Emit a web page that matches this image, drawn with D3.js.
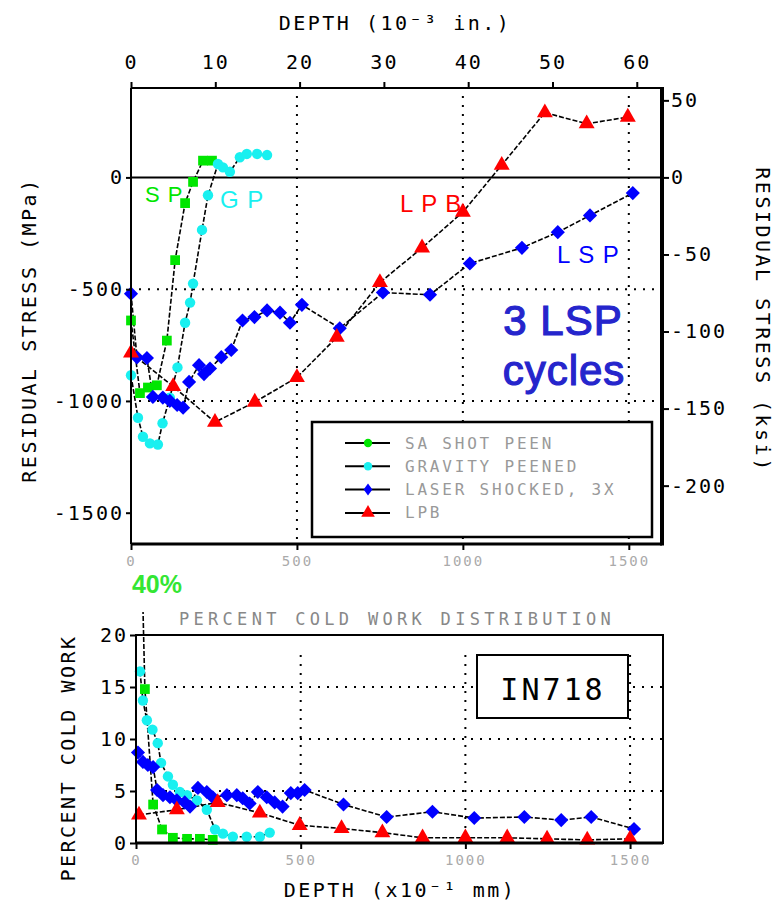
<!DOCTYPE html>
<html>
<head>
<meta charset="utf-8">
<script src="https://cdn.jsdelivr.net/npm/d3@7"></script>
<style>
  body { margin: 0; background: #fff; }
  svg { display: block; }
  .mono { font-family: "DejaVu Sans Mono", monospace; }
  .axis text { font-family: "DejaVu Sans Mono", monospace; font-size: 20px; fill: #000; letter-spacing: 2px; }
  .axis.gray text { font-size: 14px; fill: #aaa; letter-spacing: 2px; }
  .grid { stroke: #000; stroke-width: 2; stroke-dasharray: 2,7; fill: none; }
</style>
</head>
<body>
<svg id="chart" width="782" height="902"></svg>
<script>
// top panel: residual stress vs depth (um, MPa)
var spDepth = [0, 27, 51, 78, 108, 133, 163, 187, 217, 244];
var spStress = [-640, -965, -940, -930, -730, -370, -115, -20, 75, 75];

var gpDepth = [0, 21, 36, 57, 81, 95, 117, 140, 163, 178, 187, 214, 232, 262, 277, 298, 328, 349, 380, 410];
var gpStress = [-885, -1075, -1160, -1190, -1195, -1100, -985, -850, -650, -560, -475, -235, -80, 60, 45, 25, 90, 105, 105, 100];

var lspDepth = [0, 18, 48, 66, 96, 117, 139, 157, 175, 205, 220, 238, 272, 302, 336, 372, 410, 449, 479, 515, 629, 759, 901, 1021, 1178, 1286, 1383, 1512];
var lspStress = [-520, -805, -808, -982, -985, -1000, -1018, -1030, -915, -840, -880, -855, -804, -772, -640, -625, -595, -605, -650, -570, -675, -515, -525, -385, -315, -245, -170, -70];

var lpbDepth = [0, 127, 253, 373, 500, 620, 750, 877, 1000, 1117, 1247, 1373, 1497];
var lpbStress = [-785, -935, -1095, -1005, -895, -715, -470, -315, -155, 55, 290, 240, 270];

// bottom panel: percent cold work vs depth
var spCwDepth = [8, 27, 52, 79, 112, 155, 194, 233];
var spCw = [40, 14.8, 3.7, 1.3, 0.5, 0.4, 0.4, 0.3];

var gpCwDepth = [12, 21, 33, 50, 66, 76, 97, 112, 133, 155, 185, 215, 240, 264, 294, 336, 376, 406];
var gpCw = [16.5, 13.7, 11.8, 10.9, 9.6, 7.7, 6.4, 5.6, 4.9, 4.6, 4.1, 3.2, 1.3, 0.9, 0.6, 0.6, 0.6, 1.0];

var lspCwDepth = [6, 21, 36, 52, 64, 82, 103, 124, 148, 164, 188, 215, 233, 276, 306, 324, 345, 370, 397, 421, 445, 470, 491, 512, 630, 761, 900, 1027, 1179, 1291, 1382, 1512];
var lspCw = [8.7, 7.8, 7.5, 7.3, 5.1, 4.6, 4.4, 4.1, 3.9, 3.5, 5.3, 4.9, 4.4, 4.6, 4.6, 4.3, 3.8, 4.9, 4.4, 3.9, 3.5, 4.8, 4.8, 5.1, 3.7, 2.5, 3.0, 2.4, 2.5, 2.2, 2.5, 1.35];

var lpbCwDepth = [9, 124, 248, 376, 497, 624, 748, 870, 1000, 1127, 1248, 1370, 1500];
var lpbCw = [2.7, 3.2, 3.9, 2.9, 1.7, 1.4, 1.0, 0.5, 0.5, 0.5, 0.4, 0.3, 0.4];

var inchTicks = [0, 10, 20, 30, 40, 50, 60];
var mpaTicks = [0, -500, -1000, -1500];
var ksiTicks = [50, 0, -50, -100, -150, -200];
var depthTicks = [0, 500, 1000, 1500];
var cwTicks = [0, 5, 10, 15, 20];
var legendLabels = ["SA SHOT PEEN", "GRAVITY PEENED", "LASER SHOCKED, 3X", "LPB"];

var MPA_PER_KSI = 6.89476, UM_PER_MIL = 25.4;

var series = [
  { name: "sp", color: "#00e600", shape: "square", size: 95, d: spDepth, v: spStress, cd: spCwDepth, cv: spCw },
  { name: "gp", color: "#19f0f0", shape: "circle", size: 85, d: gpDepth, v: gpStress, cd: gpCwDepth, cv: gpCw },
  { name: "lsp", color: "#0000ff", shape: "diamond", size: 100, d: lspDepth, v: lspStress, cd: lspCwDepth, cv: lspCw },
  { name: "lpb", color: "#ff0000", shape: "triangle", size: 110, d: lpbDepth, v: lpbStress, cd: lpbCwDepth, cv: lpbCw }
];

var svg = d3.select("#chart");

function symbolPath(shape, size) {
  if (shape === "square" || shape === "diamond") return d3.symbol().type(d3.symbolSquare).size(size)();
  if (shape === "triangle") return d3.symbol().type(d3.symbolTriangle).size(size)();
  return d3.symbol().type(d3.symbolCircle).size(size)();
}

function drawMarkers(g, pts, s, x, y) {
  g.selectAll(".m-" + s.name)
    .data(pts)
    .enter().append("path")
    .attr("class", "m-" + s.name)
    .attr("d", symbolPath(s.shape, s.size))
    .attr("fill", s.color)
    .attr("transform", function (p) {
      return "translate(" + x(p[0]) + "," + y(p[1]) + ")" + (s.shape === "diamond" ? " rotate(45)" : "");
    });
}

// ---------- top panel ----------
var pTop = { left: 131, right: 662, top: 88, bottom: 544 };
var x1 = d3.scaleLinear().domain([0, 1600]).range([pTop.left, pTop.right]);
var y1 = d3.scaleLinear().domain([-1640, 400]).range([pTop.bottom, pTop.top]);
var xIn = d3.scaleLinear().domain([0, 1600 / UM_PER_MIL]).range([pTop.left, pTop.right]);
var yKsi = d3.scaleLinear().domain([-1640 / MPA_PER_KSI, 400 / MPA_PER_KSI]).range([pTop.bottom, pTop.top]);

svg.append("clipPath").attr("id", "clipTop").append("rect")
  .attr("x", pTop.left - 8).attr("y", pTop.top)
  .attr("width", pTop.right - pTop.left + 8).attr("height", pTop.bottom - pTop.top);

var gTop = svg.append("g");

// grid
depthTicks.slice(1).forEach(function (t) {
  gTop.append("line").attr("class", "grid")
    .attr("x1", x1(t)).attr("x2", x1(t)).attr("y1", pTop.top + 8).attr("y2", pTop.bottom);
});
[-500, -1000].forEach(function (t) {
  gTop.append("line").attr("class", "grid")
    .attr("x1", pTop.left + 8).attr("x2", pTop.right).attr("y1", y1(t)).attr("y2", y1(t));
});
// zero line
gTop.append("line").attr("x1", pTop.left).attr("x2", pTop.right)
  .attr("y1", y1(0)).attr("y2", y1(0)).attr("stroke", "#000").attr("stroke-width", 2);

var line1 = d3.line().x(function (p) { return x1(p[0]); }).y(function (p) { return y1(p[1]); });
var dataTop = gTop.append("g").attr("clip-path", "url(#clipTop)");
series.forEach(function (s) {
  var pts = s.d.map(function (d, i) { return [d, s.v[i]]; });
  dataTop.append("path").datum(pts).attr("d", line1)
    .attr("fill", "none").attr("stroke", "#000").attr("stroke-width", 1.6)
    .attr("stroke-dasharray", "5,2");
});

// legend (under the markers, over the grid)
var lg = gTop.append("g");
lg.append("rect").attr("x", 312).attr("y", 422).attr("width", 340).attr("height", 115)
  .attr("fill", "#fff").attr("stroke", "#000").attr("stroke-width", 2.5);
series.forEach(function (s, i) {
  var yy = 443 + i * 23.3;
  lg.append("line").attr("x1", 345).attr("x2", 390).attr("y1", yy).attr("y2", yy)
    .attr("stroke", "#000").attr("stroke-width", 2);
  var sh = s.shape === "square" ? "circle" : s.shape;
  lg.append("path").attr("d", symbolPath(sh, s.shape === "triangle" ? 80 : (sh === "diamond" ? 60 : 55)))
    .attr("fill", s.color)
    .attr("transform", "translate(368," + yy + ")" + (sh === "diamond" ? " scale(0.8,1.1) rotate(45)" : ""));
  lg.append("text").attr("class", "mono").attr("x", 405).attr("y", yy + 5.5)
    .attr("font-size", 16).attr("letter-spacing", 2.8).attr("fill", "#999")
    .text(legendLabels[i]);
});

series.forEach(function (s) {
  var pts = s.d.map(function (d, i) { return [d, s.v[i]]; });
  drawMarkers(dataTop, pts, s, x1, y1);
});

// axes
svg.append("g").attr("class", "axis")
  .attr("transform", "translate(0," + pTop.top + ")")
  .call(d3.axisTop(xIn).tickValues(inchTicks).tickSize(6).tickPadding(13).tickFormat(function (d) { return d; }))
  .call(function (g) { g.select(".domain").remove(); g.selectAll("line").attr("stroke-width", 2); });

svg.append("g").attr("class", "axis")
  .attr("transform", "translate(" + pTop.left + ",0)")
  .call(d3.axisLeft(y1).tickValues(mpaTicks).tickSize(5).tickPadding(2).tickFormat(function (d) { return d; }))
  .call(function (g) { g.select(".domain").remove(); g.selectAll("line").attr("stroke-width", 2); });

svg.append("g").attr("class", "axis")
  .attr("transform", "translate(" + pTop.right + ",0)")
  .call(d3.axisRight(yKsi).tickValues(ksiTicks).tickSize(7).tickPadding(2).tickFormat(function (d) { return d; }))
  .call(function (g) { g.select(".domain").remove(); g.selectAll("line").attr("stroke-width", 2); });

svg.append("g").attr("class", "axis gray")
  .attr("transform", "translate(0," + pTop.bottom + ")")
  .call(d3.axisBottom(x1).tickValues(depthTicks).tickSize(6).tickPadding(6).tickFormat(function (d) { return d; }))
  .call(function (g) { g.select(".domain").remove(); g.selectAll("line").attr("stroke", "#000").attr("stroke-width", 2); });

// frame
gTop.append("line").attr("x1", pTop.left).attr("x2", pTop.right + 2).attr("y1", pTop.top).attr("y2", pTop.top).attr("stroke", "#000").attr("stroke-width", 2);
gTop.append("line").attr("x1", pTop.left).attr("x2", pTop.left).attr("y1", pTop.top).attr("y2", pTop.bottom).attr("stroke", "#000").attr("stroke-width", 2);
gTop.append("line").attr("x1", pTop.left).attr("x2", pTop.right).attr("y1", pTop.bottom).attr("y2", pTop.bottom).attr("stroke", "#000").attr("stroke-width", 3);
gTop.append("line").attr("x1", pTop.right).attr("x2", pTop.right).attr("y1", pTop.top - 1).attr("y2", pTop.bottom + 1.5).attr("stroke", "#000").attr("stroke-width", 4);

// axis titles
svg.append("text").attr("class", "mono").attr("x", 395).attr("y", 30)
  .attr("text-anchor", "middle").attr("font-size", 20).attr("letter-spacing", 2.5)
  .text("DEPTH (10⁻³ in.)");
svg.append("text").attr("class", "mono").attr("transform", "translate(36,330) rotate(-90)")
  .attr("text-anchor", "middle").attr("font-size", 20).attr("letter-spacing", 2.5)
  .text("RESIDUAL STRESS (MPa)");
svg.append("text").attr("class", "mono").attr("transform", "translate(756,320) rotate(90)")
  .attr("text-anchor", "middle").attr("font-size", 20).attr("letter-spacing", 2.5)
  .text("RESIDUAL STRESS (ksi)");

// series labels
var labelFont = "Liberation Sans, Arial, sans-serif";
[["S P", 145, 202, "#00e600", 22], ["G P", 220, 208, "#19f0f0", 24],
 ["L P B", 400, 212, "#ff0000", 24], ["L S P", 557, 263, "#0000ff", 24]].forEach(function (l) {
  svg.append("text").attr("x", l[1]).attr("y", l[2]).attr("fill", l[3])
    .attr("font-family", labelFont).attr("font-size", l[4]).attr("letter-spacing", 1)
    .text(l[0]);
});
svg.append("text").attr("x", 563).attr("y", 335).attr("text-anchor", "middle")
  .attr("fill", "#2525cc").attr("font-family", labelFont).attr("font-size", 42).attr("letter-spacing", 1)
  .attr("stroke", "#2525cc").attr("stroke-width", 1.2).text("3 LSP");
svg.append("text").attr("x", 564).attr("y", 385).attr("text-anchor", "middle")
  .attr("fill", "#2525cc").attr("font-family", labelFont).attr("font-size", 42).attr("letter-spacing", 1)
  .attr("stroke", "#2525cc").attr("stroke-width", 1.2).text("cycles");

// ---------- bottom panel ----------
var pBot = { left: 136, right: 663, top: 635, bottom: 843 };
var x2 = d3.scaleLinear().domain([0, 1600]).range([pBot.left, pBot.right]);
var y2 = d3.scaleLinear().domain([0, 20]).range([pBot.bottom, pBot.top]);

svg.append("clipPath").attr("id", "clipBot").append("rect")
  .attr("x", pBot.left - 6).attr("y", 612)
  .attr("width", pBot.right - pBot.left + 6).attr("height", pBot.bottom - 612 + 8);

var gBot = svg.append("g");
depthTicks.slice(1).forEach(function (t) {
  gBot.append("line").attr("class", "grid")
    .attr("x1", x2(t)).attr("x2", x2(t)).attr("y1", pBot.top + 20).attr("y2", pBot.bottom);
});
[5, 10, 15].forEach(function (t) {
  gBot.append("line").attr("class", "grid")
    .attr("x1", pBot.left + 20).attr("x2", pBot.right).attr("y1", y2(t)).attr("y2", y2(t));
});

// IN718 box
gBot.append("rect").attr("x", 477).attr("y", 655).attr("width", 151).attr("height", 63)
  .attr("fill", "#fff").attr("stroke", "#000").attr("stroke-width", 2);
gBot.append("text").attr("class", "mono").attr("x", 553).attr("y", 700)
  .attr("text-anchor", "middle").attr("font-size", 30).attr("letter-spacing", 3)
  .text("IN718");

var line2 = d3.line().x(function (p) { return x2(p[0]); }).y(function (p) { return y2(p[1]); });
var dataBot = gBot.append("g").attr("clip-path", "url(#clipBot)");
series.forEach(function (s) {
  var pts = s.cd.map(function (d, i) { return [d, s.cv[i]]; });
  dataBot.append("path").datum(pts).attr("d", line2)
    .attr("fill", "none").attr("stroke", "#000").attr("stroke-width", 1.6)
    .attr("stroke-dasharray", "5,2");
});
series.forEach(function (s) {
  var pts = s.cd.map(function (d, i) { return [d, s.cv[i]]; });
  drawMarkers(dataBot, pts.filter(function (p) { return p[1] <= 20; }), s, x2, y2);
});

svg.append("g").attr("class", "axis")
  .attr("transform", "translate(" + pBot.left + ",0)")
  .call(d3.axisLeft(y2).tickValues(cwTicks).tickSize(6).tickPadding(2).tickFormat(function (d) { return d; }))
  .call(function (g) { g.select(".domain").remove(); g.selectAll("line").attr("stroke-width", 2); });

svg.append("g").attr("class", "axis gray")
  .attr("transform", "translate(0," + pBot.bottom + ")")
  .call(d3.axisBottom(x2).tickValues(depthTicks).tickSize(6).tickPadding(6).tickFormat(function (d) { return d; }))
  .call(function (g) {
    g.select(".domain").remove();
    g.selectAll("line").attr("stroke", "#000").attr("stroke-width", 2);
    g.selectAll("text").attr("font-size", 10).attr("letter-spacing", 0);
  });

gBot.append("rect").attr("x", pBot.left).attr("y", pBot.top)
  .attr("width", pBot.right - pBot.left).attr("height", pBot.bottom - pBot.top)
  .attr("fill", "none").attr("stroke", "#000").attr("stroke-width", 2);
gBot.append("line").attr("x1", pBot.left).attr("x2", pBot.right).attr("y1", pBot.bottom).attr("y2", pBot.bottom)
  .attr("stroke", "#000").attr("stroke-width", 3);

svg.append("text").attr("class", "mono").attr("x", 397).attr("y", 625)
  .attr("text-anchor", "middle").attr("font-size", 17).attr("letter-spacing", 4.3).attr("fill", "#888")
  .text("PERCENT COLD WORK DISTRIBUTION");
svg.append("text").attr("x", 157).attr("y", 593).attr("text-anchor", "middle")
  .attr("fill", "#33e633").attr("font-family", labelFont).attr("font-weight", "bold").attr("font-size", 25)
  .text("40%");
svg.append("text").attr("class", "mono").attr("transform", "translate(75,758) rotate(-90)")
  .attr("text-anchor", "middle").attr("font-size", 20).attr("letter-spacing", 2.5)
  .text("PERCENT COLD WORK");
svg.append("text").attr("class", "mono").attr("x", 400).attr("y", 897)
  .attr("text-anchor", "middle").attr("font-size", 20).attr("letter-spacing", 2.5)
  .text("DEPTH (x10⁻¹ mm)");
</script>
</body>
</html>
